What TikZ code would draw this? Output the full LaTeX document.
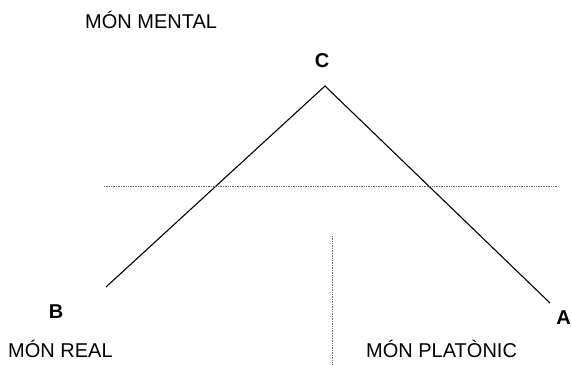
\documentclass[tikz,border=0pt]{standalone}
\usepackage{fontspec}
\setmainfont{Liberation Sans}
\usetikzlibrary{positioning}

\begin{document}
\begin{tikzpicture}[
    x=1pt, y=-1pt,
    world/.style={font=\fontsize{20}{24}\selectfont, inner sep=0pt},
    vertex/.style={font=\bfseries\fontsize{20}{24}\selectfont, inner sep=0pt},
    side/.style={line width=1.1pt},
    border/.style={densely dotted, line width=0.7pt, black!60}
]
    \useasboundingbox (0,0) rectangle (572,364);

    % Corners of the triangle
    \coordinate (top) at (325,86);
    \coordinate (left) at (106,287);
    \coordinate (right) at (550,303);
    \draw[side] (left) -- (top) -- (right);

    % Vertex labels
    \node[vertex, anchor=base] (C) at (322,67) {C};
    \node[vertex, anchor=base] (B) at (56,318) {B};
    \node[vertex, anchor=base east] (A) at (571,324) {A};

    % Borders between the worlds
    \coordinate (hl) at (104,186);
    \coordinate (hr) at (557,186);
    \draw[border] (hl) -- (hr);
    \coordinate (vt) at (332,236);
    \coordinate (vb) at (332,364);
    \draw[border] (vt) -- (vb);

    % Worlds
    \node[world, anchor=base west] (mental) at (85,28) {MÓN MENTAL};
    \node[world, anchor=base west] (real) at (8,357) {MÓN REAL};
    \node[world, anchor=base west] (platonic) at (366,357) {MÓN PLATÒNIC};
\end{tikzpicture}
\end{document}
